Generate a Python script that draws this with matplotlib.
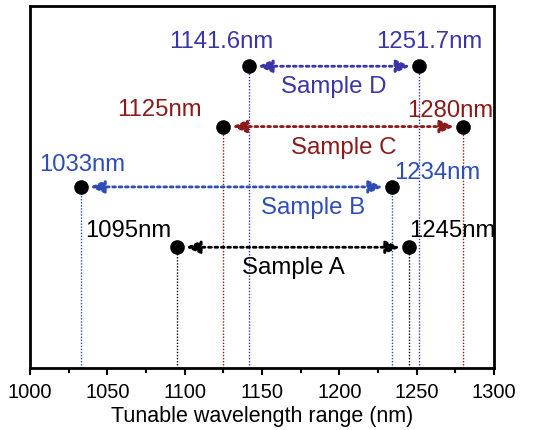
import matplotlib
matplotlib.use("Agg")
import matplotlib.pyplot as plt
from matplotlib.ticker import MultipleLocator

plt.rcParams['font.family'] = ['Liberation Sans', 'DejaVu Sans']

samples = ["Sample A", "Sample B", "Sample C", "Sample D"]
start_nm = [1095, 1033, 1125, 1141.6]
end_nm = [1245, 1234, 1280, 1251.7]
start_labels = ["1095nm", "1033nm", "1125nm", "1141.6nm"]
end_labels = ["1245nm", "1234nm", "1280nm", "1251.7nm"]
levels = [2, 3, 4, 5]
colors = ["#000000", "#2E4DB5", "#8B1A1A", "#3A35A8"]

fig = plt.figure(figsize=(5.47, 4.31), dpi=100)
ax = fig.add_axes([0.055, 0.144, 0.848, 0.840])
ax.set_xlim(1000, 1300)
ax.set_ylim(0, 6)

def px2data_x(px):
    return px / 464 * 300

def px2data_y(px):
    return px / 362 * 6

for i in range(len(samples)):
    y = levels[i]
    c = colors[i]
    x0, x1 = start_nm[i], end_nm[i]
    # vertical dotted drop lines
    for xv in (x0, x1):
        ax.plot([xv, xv], [0, y], linestyle=(0, (1, 1.2)), color=c, lw=1.0, zorder=2)
    # dotted arrow line
    ax.annotate('', xy=(x1, y), xytext=(x0, y),
                arrowprops=dict(arrowstyle='<|-|>,head_length=0.85,head_width=0.38',
                                linestyle=(0, (1, 1.3)), lw=2.0, color=c,
                                shrinkA=6.5, shrinkB=6.5), zorder=3)
    ax.plot([x0, x1], [y, y], linestyle='none', marker='o', ms=9.5,
            color='black', zorder=5)
    # sample label
    ax.text((x0 + x1) / 2 if i != 1 else 1183, y - px2data_y(20), samples[i],
            color=c, fontsize=17.3, ha='center', va='center')

# value labels (offsets in pixels from points)
start_off = [(-49, 17), (1, 23), (-64, 18), (-28, 25)]
end_off = [(43, 17), (45, 15), (-13, 17), (10, 25)]
for i in range(len(samples)):
    y = levels[i]
    c = colors[i]
    ax.text(start_nm[i] + px2data_x(start_off[i][0]), y + px2data_y(start_off[i][1]),
            start_labels[i], color=c, fontsize=17.2, ha='center', va='center')
    ax.text(end_nm[i] + px2data_x(end_off[i][0]), y + px2data_y(end_off[i][1]),
            end_labels[i], color=c, fontsize=17.2, ha='center', va='center')

ax.xaxis.set_major_locator(MultipleLocator(50))
ax.xaxis.set_minor_locator(MultipleLocator(25))
ax.tick_params(axis='x', which='major', direction='out', length=5, width=1.5,
               labelsize=14.5, pad=5)
ax.tick_params(axis='x', which='minor', direction='out', length=3.5, width=1.5)
ax.set_yticks([])
for s in ax.spines.values():
    s.set_linewidth(2)
ax.set_xlabel("Tunable wavelength range (nm)", fontsize=15.5, labelpad=3)

fig.savefig("out.png", dpi=100)
